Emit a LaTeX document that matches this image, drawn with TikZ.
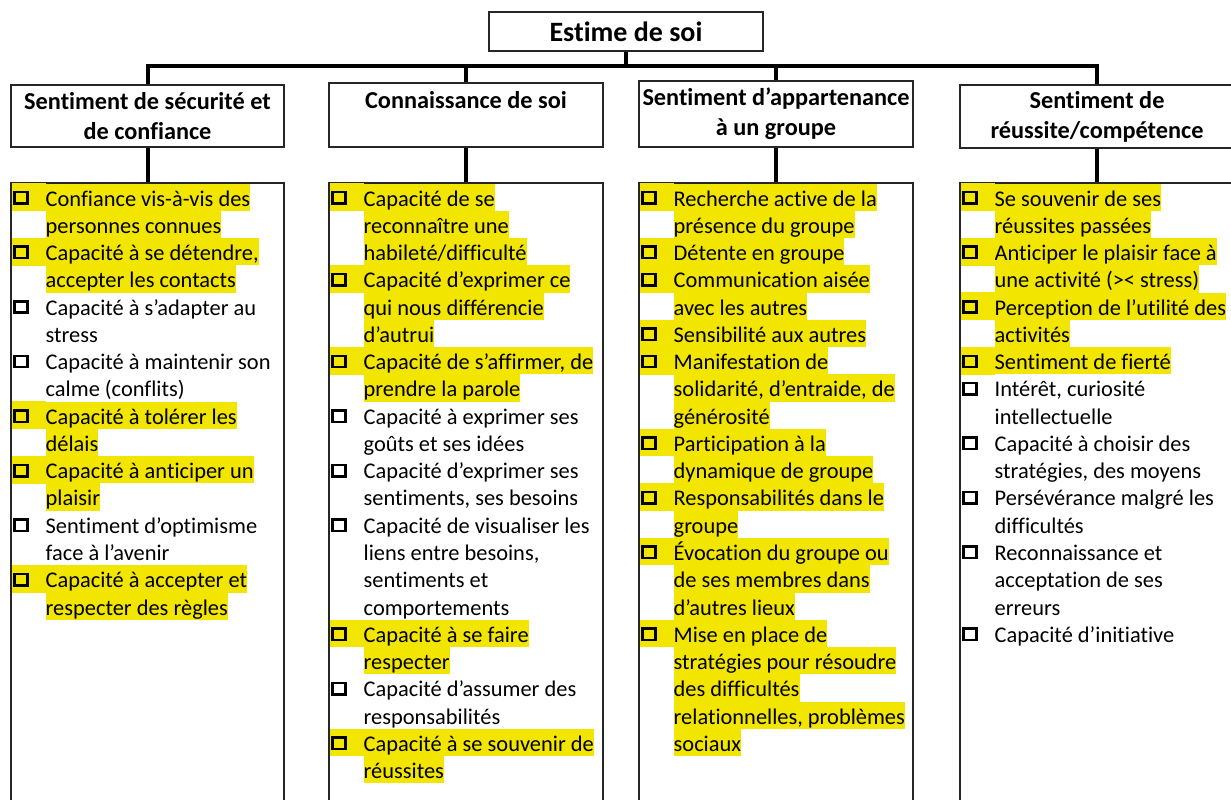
\documentclass[tikz,border=0pt]{standalone}
\usepackage{fontspec}
\setmainfont{Carlito}[Ligatures={NoCommon}]
\usetikzlibrary{calc}
\definecolor{hly}{RGB}{242,230,0}
\newcommand\Lf[5]{%
  \node[ln,#3] (#5) at ({#1+34.5},{-(206+27.27*#2)}) {#4};
  \path[#3] ($(#5.north west)+(-33.5,0)$) rectangle (#5.south west);
  \draw[chk] ($(#5.base west)+(-31.2,2.4)$) rectangle ++(13.4,11.4);
}
\newcommand\Lc[5]{%
  \node[ln,#3] (#5) at ({#1+34.5},{-(206+27.27*#2)}) {#4};
}
\begin{document}
\begin{tikzpicture}[x=1pt,y=1pt,
  box/.style={draw=black!85, line width=1.5pt, fill=white, inner sep=0pt},
  conn/.style={line width=4pt, draw=black},
  head/.style={box, font=\fontsize{24.3}{30}\selectfont\bfseries, align=center},
  listbox/.style={box, minimum height=637pt},
  ln/.style={inner sep=0pt, anchor=base west, text height=22.5pt, text depth=4.77pt, font=\fontsize{22.4}{27.27}\selectfont},
  hl/.style={fill=hly},
  plain/.style={},
  chk/.style={draw=black, line width=2.5pt}
]
\useasboundingbox (0,0) rectangle (1231,-800);
\clip (0,0) rectangle (1231,-800);

% top
\node[box, minimum width=274pt, minimum height=39pt, font=\fontsize{28}{34}\selectfont\bfseries] (top) at (626,-31.5) {Estime de soi};

% headers
\node[head, minimum width=273pt, minimum height=62pt] (h1) at (147.5,-116) {Sentiment de sécurité et\\de confiance};
\node[head, minimum width=274pt, minimum height=64pt] (h2) at (466,-115) {Connaissance de soi\\\mbox{}};
\node[head, minimum width=274pt, minimum height=66pt] (h3) at (776,-114) {Sentiment d’appartenance\\à un groupe};
\node[head, minimum width=274pt, minimum height=63pt] (h4) at (1097,-116.5) {Sentiment de\\réussite/compétence};

% list boxes
\node[listbox, minimum width=273pt] (l1) at (147.5,-501.5) {};
\node[listbox, minimum width=274pt] (l2) at (466,-501.5) {};
\node[listbox, minimum width=274pt] (l3) at (776,-501.5) {};
\node[listbox, minimum width=274pt] (l4) at (1097,-501.5) {};

% connectors
\coordinate (bus) at (626,-66);
\draw[conn] (h1.north) |- (h4.north |- bus) -- (h4.north);
\draw[conn] (top.south) -- (top.south |- bus);
\draw[conn] (h2.north) -- (h2.north |- bus);
\draw[conn] (h3.north) -- (h3.north |- bus);
\draw[conn] (h1.south) -- (l1.north);
\draw[conn] (h2.south) -- (l2.north);
\draw[conn] (h3.south) -- (l3.north);
\draw[conn] (h4.south) -- (l4.north);

% column 1
\Lf{11}{0}{hl}{Confiance vis-à-vis des}{a0}
\Lc{11}{1}{hl}{personnes connues}{a1}
\Lf{11}{2}{hl}{Capacité à se détendre,}{a2}
\Lc{11}{3}{hl}{accepter les contacts}{a3}
\Lf{11}{4}{plain}{Capacité à s’adapter au}{a4}
\Lc{11}{5}{plain}{stress}{a5}
\Lf{11}{6}{plain}{Capacité à maintenir son}{a6}
\Lc{11}{7}{plain}{calme (conflits)}{a7}
\Lf{11}{8}{hl}{Capacité à tolérer les}{a8}
\Lc{11}{9}{hl}{délais}{a9}
\Lf{11}{10}{hl}{Capacité à anticiper un}{a10}
\Lc{11}{11}{hl}{plaisir}{a11}
\Lf{11}{12}{plain}{Sentiment d’optimisme}{a12}
\Lc{11}{13}{plain}{face à l’avenir}{a13}
\Lf{11}{14}{hl}{Capacité à accepter et}{a14}
\Lc{11}{15}{hl}{respecter des règles}{a15}

% column 2
\Lf{329}{0}{hl}{Capacité de se}{b0}
\Lc{329}{1}{hl}{reconnaître une}{b1}
\Lc{329}{2}{hl}{habileté/difficulté}{b2}
\Lf{329}{3}{hl}{Capacité d’exprimer ce}{b3}
\Lc{329}{4}{hl}{qui nous différencie}{b4}
\Lc{329}{5}{hl}{d’autrui}{b5}
\Lf{329}{6}{hl}{Capacité de s’affirmer, de}{b6}
\Lc{329}{7}{hl}{prendre la parole}{b7}
\Lf{329}{8}{plain}{Capacité à exprimer ses}{b8}
\Lc{329}{9}{plain}{goûts et ses idées}{b9}
\Lf{329}{10}{plain}{Capacité d’exprimer ses}{b10}
\Lc{329}{11}{plain}{sentiments, ses besoins}{b11}
\Lf{329}{12}{plain}{Capacité de visualiser les}{b12}
\Lc{329}{13}{plain}{liens entre besoins,}{b13}
\Lc{329}{14}{plain}{sentiments et}{b14}
\Lc{329}{15}{plain}{comportements}{b15}
\Lf{329}{16}{hl}{Capacité à se faire}{b16}
\Lc{329}{17}{hl}{respecter}{b17}
\Lf{329}{18}{plain}{Capacité d’assumer des}{b18}
\Lc{329}{19}{plain}{responsabilités}{b19}
\Lf{329}{20}{hl}{Capacité à se souvenir de}{b20}
\Lc{329}{21}{hl}{réussites}{b21}

% column 3
\Lf{639}{0}{hl}{Recherche active de la}{c0}
\Lc{639}{1}{hl}{présence du groupe}{c1}
\Lf{639}{2}{hl}{Détente en groupe}{c2}
\Lf{639}{3}{hl}{Communication aisée}{c3}
\Lc{639}{4}{hl}{avec les autres}{c4}
\Lf{639}{5}{hl}{Sensibilité aux autres}{c5}
\Lf{639}{6}{hl}{Manifestation de}{c6}
\Lc{639}{7}{hl}{solidarité, d’entraide, de}{c7}
\Lc{639}{8}{hl}{générosité}{c8}
\Lf{639}{9}{hl}{Participation à la}{c9}
\Lc{639}{10}{hl}{dynamique de groupe}{c10}
\Lf{639}{11}{hl}{Responsabilités dans le}{c11}
\Lc{639}{12}{hl}{groupe}{c12}
\Lf{639}{13}{hl}{Évocation du groupe ou}{c13}
\Lc{639}{14}{hl}{de ses membres dans}{c14}
\Lc{639}{15}{hl}{d’autres lieux}{c15}
\Lf{639}{16}{hl}{Mise en place de}{c16}
\Lc{639}{17}{hl}{stratégies pour résoudre}{c17}
\Lc{639}{18}{hl}{des difficultés}{c18}
\Lc{639}{19}{hl}{relationnelles, problèmes}{c19}
\Lc{639}{20}{hl}{sociaux}{c20}

% column 4
\Lf{960}{0}{hl}{Se souvenir de ses}{d0}
\Lc{960}{1}{hl}{réussites passées}{d1}
\Lf{960}{2}{hl}{Anticiper le plaisir face à}{d2}
\Lc{960}{3}{hl}{une activité (>< stress)}{d3}
\Lf{960}{4}{hl}{Perception de l’utilité des}{d4}
\Lc{960}{5}{hl}{activités}{d5}
\Lf{960}{6}{hl}{Sentiment de fierté}{d6}
\Lf{960}{7}{plain}{Intérêt, curiosité}{d7}
\Lc{960}{8}{plain}{intellectuelle}{d8}
\Lf{960}{9}{plain}{Capacité à choisir des}{d9}
\Lc{960}{10}{plain}{stratégies, des moyens}{d10}
\Lf{960}{11}{plain}{Persévérance malgré les}{d11}
\Lc{960}{12}{plain}{difficultés}{d12}
\Lf{960}{13}{plain}{Reconnaissance et}{d13}
\Lc{960}{14}{plain}{acceptation de ses}{d14}
\Lc{960}{15}{plain}{erreurs}{d15}
\Lf{960}{16}{plain}{Capacité d’initiative}{d16}
\end{tikzpicture}
\end{document}
